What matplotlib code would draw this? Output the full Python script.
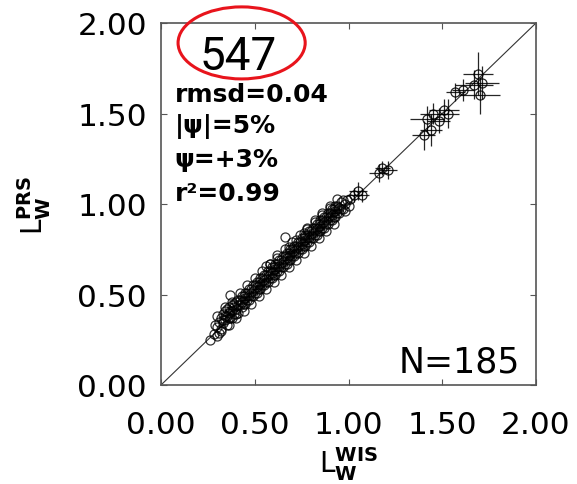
import matplotlib
matplotlib.use('Agg')
import matplotlib.pyplot as plt
from matplotlib.patches import Ellipse

# band of points (small values, no visible error bars)
x_band = [0.26, 0.28, 0.30, 0.30, 0.31, 0.32, 0.32, 0.33, 0.33, 0.34, 0.34, 0.35, 0.35,
          0.36, 0.36, 0.37, 0.37, 0.38, 0.38, 0.39, 0.39, 0.40, 0.40, 0.41, 0.41, 0.42,
          0.43, 0.43, 0.44, 0.45, 0.45, 0.46, 0.47, 0.47, 0.48, 0.49, 0.49, 0.50, 0.51,
          0.51, 0.52, 0.53, 0.53, 0.54, 0.55, 0.55, 0.56, 0.56, 0.57, 0.57, 0.58, 0.58,
          0.59, 0.59, 0.60, 0.61, 0.61, 0.62, 0.62, 0.63, 0.63, 0.64, 0.65, 0.65, 0.66,
          0.66, 0.67, 0.67, 0.68, 0.68, 0.69, 0.69, 0.70, 0.71, 0.71, 0.72, 0.72, 0.73,
          0.73, 0.74, 0.75, 0.75, 0.76, 0.76, 0.77, 0.77, 0.78, 0.78, 0.79, 0.79, 0.80,
          0.81, 0.81, 0.82, 0.82, 0.83, 0.83, 0.84, 0.85, 0.85, 0.86, 0.86, 0.87, 0.87,
          0.88, 0.89, 0.89, 0.90, 0.90, 0.91, 0.91, 0.92, 0.93, 0.93, 0.94, 0.95, 0.95,
          0.96, 0.97, 0.98, 0.99, 1.00,
          0.29, 0.31, 0.33, 0.34, 0.35, 0.36, 0.37, 0.38, 0.39, 0.40, 0.41, 0.42, 0.43,
          0.44, 0.45, 0.46, 0.47, 0.48, 0.49, 0.50, 0.51, 0.52, 0.53, 0.54, 0.55, 0.56,
          0.57, 0.58, 0.59, 0.60, 0.61, 0.62, 0.63, 0.64, 0.65, 0.66, 0.67, 0.68, 0.69,
          0.70, 0.71, 0.72, 0.73, 0.74, 0.75, 0.76, 0.77, 0.78, 0.79, 0.80, 0.81, 0.82,
          0.83, 0.84, 0.85, 0.86, 0.87, 0.88, 0.89, 0.90, 0.91, 0.92, 0.93, 0.94, 0.96,
          0.97, 0.98, 1.01,
          0.30, 0.32, 0.34, 0.36, 0.38, 0.40, 0.42, 0.44, 0.46, 0.48, 0.50, 0.52, 0.54,
          0.56, 0.58, 0.60, 0.62, 0.64, 0.66, 0.68, 0.70, 0.72, 0.74, 0.76, 0.78, 0.80,
          0.82, 0.84, 0.86, 0.88, 0.90, 0.92, 0.94]
y_band = [0.25, 0.28, 0.27, 0.32, 0.35, 0.30, 0.37, 0.34, 0.39, 0.36, 0.41, 0.33, 0.38,
          0.40, 0.43, 0.37, 0.50, 0.41, 0.44, 0.39, 0.43, 0.42, 0.46, 0.40, 0.44, 0.47,
          0.43, 0.46, 0.49, 0.45, 0.48, 0.51, 0.47, 0.50, 0.53, 0.49, 0.52, 0.55, 0.51,
          0.54, 0.57, 0.53, 0.56, 0.59, 0.55, 0.58, 0.61, 0.66, 0.57, 0.60, 0.63, 0.67,
          0.59, 0.62, 0.65, 0.61, 0.64, 0.67, 0.70, 0.63, 0.66, 0.69, 0.65, 0.68, 0.71,
          0.82, 0.67, 0.70, 0.73, 0.76, 0.69, 0.72, 0.75, 0.71, 0.74, 0.77, 0.80, 0.73,
          0.76, 0.79, 0.75, 0.78, 0.81, 0.84, 0.77, 0.80, 0.83, 0.86, 0.79, 0.82, 0.85,
          0.81, 0.84, 0.87, 0.90, 0.83, 0.86, 0.89, 0.85, 0.88, 0.91, 0.94, 0.87, 0.90,
          0.93, 0.89, 0.92, 0.95, 0.98, 0.91, 0.94, 0.97, 0.93, 0.96, 0.99, 0.95, 0.98,
          1.01, 0.97, 1.00, 1.02, 0.99,
          0.33, 0.29, 0.36, 0.38, 0.42, 0.37, 0.41, 0.37, 0.45, 0.39, 0.47, 0.44, 0.49,
          0.45, 0.51, 0.47, 0.53, 0.49, 0.55, 0.51, 0.57, 0.53, 0.59, 0.55, 0.61, 0.57,
          0.63, 0.59, 0.65, 0.61, 0.67, 0.63, 0.69, 0.65, 0.71, 0.67, 0.73, 0.69, 0.75,
          0.71, 0.77, 0.73, 0.79, 0.75, 0.81, 0.77, 0.83, 0.79, 0.85, 0.81, 0.87, 0.83,
          0.89, 0.85, 0.91, 0.87, 0.93, 0.89, 0.95, 0.91, 0.97, 0.93, 0.99, 0.95, 0.97,
          1.02, 0.96, 1.03,
          0.38, 0.31, 0.43, 0.33, 0.46, 0.37, 0.51, 0.41, 0.55, 0.45, 0.59, 0.49, 0.63,
          0.53, 0.67, 0.57, 0.72, 0.61, 0.75, 0.65, 0.79, 0.69, 0.83, 0.73, 0.87, 0.77,
          0.91, 0.81, 0.95, 0.85, 0.99, 0.89, 1.03]

# larger values with error crosses
x_high = [1.03, 1.05, 1.07, 1.16, 1.18, 1.21, 1.40, 1.42, 1.44, 1.45, 1.48, 1.51, 1.53,
          1.57, 1.61, 1.67, 1.69, 1.70, 1.71]
y_high = [1.05, 1.07, 1.05, 1.17, 1.20, 1.19, 1.38, 1.47, 1.41, 1.50, 1.46, 1.52, 1.50,
          1.62, 1.63, 1.66, 1.72, 1.60, 1.67]
xerr_high = [0.04, 0.05, 0.04, 0.05, 0.04, 0.05, 0.06, 0.09, 0.06, 0.07, 0.06, 0.08, 0.06,
             0.05, 0.06, 0.10, 0.08, 0.11, 0.09]
yerr_high = [0.04, 0.05, 0.04, 0.05, 0.04, 0.05, 0.08, 0.07, 0.09, 0.06, 0.07, 0.06, 0.08,
             0.05, 0.06, 0.08, 0.12, 0.10, 0.09]

ticks = [0.0, 0.5, 1.0, 1.5, 2.0]
tick_labels = ['0.00', '0.50', '1.00', '1.50', '2.00']
lims = [0.0, 2.0]
stats_lines = ['rmsd=0.04', '|\u03c8|=5%', '\u03c8=+3%', 'r\u00b2=0.99']
stats_y = [0.785, 0.699, 0.605, 0.511]
station = '547'
n_text = 'N=185'

fig = plt.figure(figsize=(5.77, 4.85), dpi=100)
ax = fig.add_axes([161/577, 1 - 386/485, 375/577, 362/485])

ax.plot(lims, lims, color='#333333', lw=0.8, zorder=1)
ax.plot(x_band, y_band, 'o', mfc='none', mec='black', ms=6.5, mew=0.9, alpha=0.8, zorder=2)
ax.errorbar(x_high, y_high, xerr=xerr_high, yerr=yerr_high, fmt='o', mfc='none',
            mec='black', ms=6.5, mew=0.9, ecolor='black', elinewidth=0.9, capsize=0,
            alpha=0.85, zorder=3)

ax.set_xlim(lims)
ax.set_ylim(lims)
ax.set_xticks(ticks)
ax.set_yticks(ticks)
ax.set_xticklabels(tick_labels)
ax.set_yticklabels(tick_labels)
ax.tick_params(direction='in', top=True, right=True, length=4, width=0.8,
               colors='#555555', labelcolor='black', labelsize=22.5)
ax.tick_params(axis='x', pad=18)
ax.tick_params(axis='y', pad=10)
for s in ax.spines.values():
    s.set_color('#555555')
    s.set_linewidth(1.2)

ax.set_xlabel(r'$\mathrm{L}_{\mathbf{W}}^{\mathbf{WIS}}$', fontsize=20)
ax.xaxis.set_label_coords(0.5, -0.162)
ax.set_ylabel(r'$\mathrm{L}_{\mathbf{W}}^{\mathbf{PRS}}$', fontsize=20)
ax.yaxis.set_label_coords(-0.288, 0.5)

ax.text(0.205, 0.873, station, transform=ax.transAxes, ha='center', va='baseline',
        fontsize=33, family='Roboto', fontweight='normal')
for line, yy in zip(stats_lines, stats_y):
    ax.text(0.037, yy, line, transform=ax.transAxes, ha='left', va='baseline',
            fontsize=18, fontweight='bold')
ax.text(0.957, 0.036, n_text, transform=ax.transAxes, ha='right', va='baseline', fontsize=25)

ax.add_patch(Ellipse((0.215, 0.945), 0.339, 0.199, transform=ax.transAxes, fill=False,
                     edgecolor='#e8141c', lw=2.2, clip_on=False, zorder=5))

fig.savefig('out.png', dpi=100)
